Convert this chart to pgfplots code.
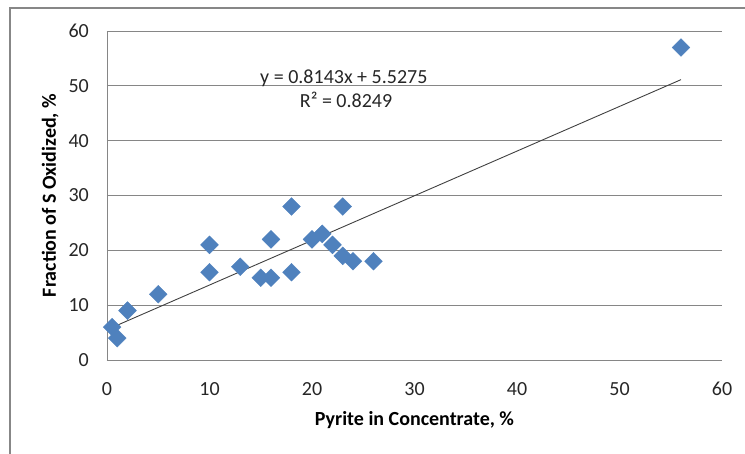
\documentclass[border=0pt]{standalone}
\usepackage{fontspec}
\setmainfont{Carlito}
\usepackage{pgfplots}
\pgfplotsset{compat=1.18}
\definecolor{markblue}{HTML}{4F81BD}
\definecolor{gridgray}{HTML}{868686}
\definecolor{framegray}{HTML}{878787}
\begin{document}
\fontsize{20bp}{24bp}\selectfont
\begin{tikzpicture}
\useasboundingbox (-107bp,-94bp) rectangle (638bp,360bp);
\begin{axis}[
  at={(0,0)}, anchor=south west,
  scale only axis, width=615bp, height=329bp,
  xmin=0, xmax=60, ymin=0, ymax=60,
  xtick={0,10,...,60}, ytick={0,10,...,60},
  separate axis lines,
  axis x line*=bottom, axis y line*=left,
  axis line style={-, draw=gridgray, line width=0.8bp},
  major tick length=0pt,
  ymajorgrids,
  grid style={draw=gridgray, line width=0.8bp},
  /pgf/number format/assume math mode=true,
  tick label style={font=\fontsize{20bp}{24bp}\selectfont, text=black!85, inner sep=0pt},
  yticklabel style={anchor=east, xshift=-18bp},
  xticklabel style={anchor=north, yshift=-22bp},
  xlabel={\bfseries Pyrite in Concentrate, \%},
  ylabel={\bfseries Fraction of S Oxidized, \%},
  x label style={at={([yshift=-65bp]axis description cs:0.5,0)}, anchor=base, inner sep=0pt, font=\fontsize{20bp}{24bp}\selectfont},
  y label style={at={([xshift=-51bp]axis description cs:0,0.5)}, rotate=0, anchor=base, inner sep=0pt, font=\fontsize{20bp}{24bp}\selectfont},
  clip=false,
]
\addplot[only marks, mark=square*, mark size=6.3bp, mark options={rotate=45, fill=markblue, draw=markblue}] table {
x y
0.5 6
1 4
2 9
5 12
10 21
10 16
13 17
15 15
16 15
16 22
18 28
18 16
20 22
21 23
22 21
23 28
23 19
24 18
26 18
56 57
};
\addplot[black!75, line width=0.9bp] coordinates {(0.5,5.935) (56,51.128)};
\node[anchor=base west, inner sep=0pt, text=black!85] at (axis cs:14.93,50.5) {y = 0.8143x + 5.5275};
\node[anchor=base west, inner sep=0pt, text=black!85] at (axis cs:18.8,46.1) {R² = 0.8249};
\end{axis}
\draw[framegray, line width=2bp] (-97bp,-94bp) -- (-97bp,352bp) -- (638bp,352bp);
\end{tikzpicture}
\end{document}
